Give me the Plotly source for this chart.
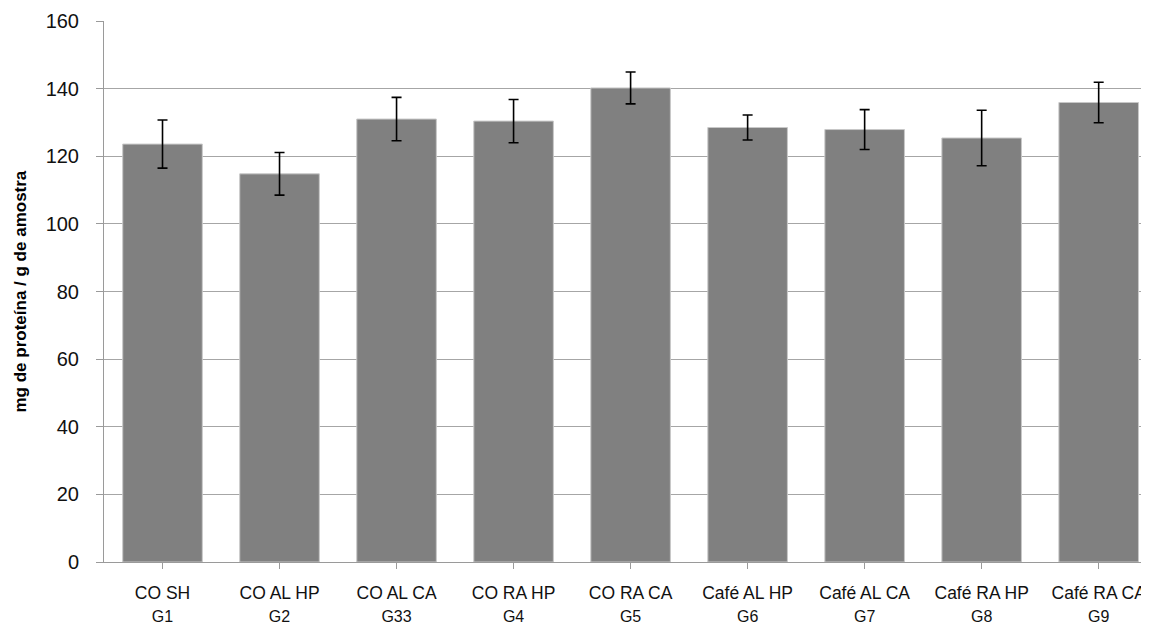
import plotly.graph_objects as go

groups = ["CO SH", "CO AL HP", "CO AL CA", "CO RA HP", "CO RA CA",
          "Café AL HP", "Café AL CA", "Café RA HP", "Café RA CA"]
codes = ["G1", "G2", "G33", "G4", "G5", "G6", "G7", "G8", "G9"]
values = [123.6, 114.8, 131.0, 130.4, 140.2, 128.5, 127.9, 125.4, 135.9]
errors = [7.1, 6.3, 6.4, 6.4, 4.7, 3.7, 5.9, 8.2, 6.0]
y_ticks = [0, 20, 40, 60, 80, 100, 120, 140, 160]

ticktext = [f"{g}<br><span style='font-size:16px'>{c}</span>" for g, c in zip(groups, codes)]

fig = go.Figure()
fig.add_trace(go.Bar(
    x=list(range(len(groups))), y=values,
    marker=dict(color="#808080", line=dict(color="#c8c8c8", width=1)),
    width=0.68,
    error_y=dict(type="data", array=errors, color="black", thickness=1.6, width=5),
))

fig.update_layout(
    width=1141, height=618,
    margin=dict(l=96, r=0, t=13, b=64),
    paper_bgcolor="white", plot_bgcolor="white",
    showlegend=False,
    font=dict(family="Liberation Sans, Arial, sans-serif", color="#111111"),
)
fig.update_xaxes(
    tickmode="array", tickvals=list(range(len(groups))), ticktext=ticktext,
    range=[-0.5, 8.43],
    showline=True, linecolor="#9a9a9a", linewidth=1,
    ticks="outside", ticklen=6, tickcolor="#9a9a9a",
    tickson="boundaries",
    tickfont=dict(size=17.5, color="#111111"),
    ticklabelstandoff=9,
    showgrid=False, zeroline=False, automargin=False,
)
fig.update_yaxes(
    range=[0, 160], tickvals=y_ticks,
    showline=True, linecolor="#9a9a9a", linewidth=1,
    ticks="outside", ticklen=7, tickcolor="#9a9a9a",
    showgrid=True, gridcolor="#a6a6a6", gridwidth=1.3,
    zeroline=False, automargin=False,
    tickfont=dict(size=20, color="#111111"),
    ticklabelstandoff=13,
)
fig.add_annotation(
    text="<b>mg de proteína / g de amostra</b>",
    xref="paper", yref="paper", x=0, y=0.5, xshift=-84,
    xanchor="center", yanchor="middle",
    textangle=-90, showarrow=False,
    font=dict(size=17, color="black"),
)
fig.write_html("out.html")
